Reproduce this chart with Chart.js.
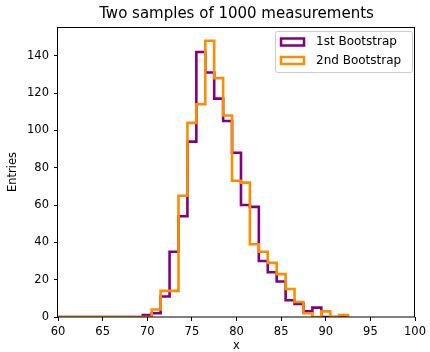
<!DOCTYPE html>
<html>
<head>
<meta charset="utf-8">
<script src="https://cdn.jsdelivr.net/npm/chart.js@4"></script>
<style>
  html, body { margin:0; padding:0; background:#fff; }
</style>
</head>
<body>
<canvas id="myChart" width="430" height="352"></canvas>
<script>
const chartTitle = 'Two samples of 1000 measurements'
const xLabel = 'x'
const yLabel = 'Entries'
const seriesNames = ['1st Bootstrap', '2nd Bootstrap']
const seriesColors = ['#800080', '#ff8c00']

// bin centres, width 1
const binCenters = [60,61,62,63,64,65,66,67,68,69,70,71,72,73,74,75,76,77,78,79,80,81,82,83,84,85,86,87,88,89,90,91,92]
const firstBootstrap  = [0,0,0,0,0,0,0,0,0,0,1,2,11,35,54,94,142,131,117,105,88,60,59,30,24,19,9,7,3,5,0,0,0]
const secondBootstrap = [0,0,0,0,0,0,0,0,0,0,0,4,14,14,65,104,114,148,128,108,73,72,39,35,29,23,15,8,2,0,3,0,1]

const xTicks = [60,65,70,75,80,85,90,95,100]
const yTicks = [0,20,40,60,80,100,120,140]
const yMax = 155.4

const FONT = 'DejaVu Sans'

function stepPoints(counts) {
  let pts = binCenters.map((c, i) => ({x: c - 0.5, y: counts[i]}))
  pts.push({x: binCenters[binCenters.length - 1] + 0.5, y: 0})
  return pts
}

// frame, title and legend drawn like matplotlib
const mplDecor = {
  id: 'mplDecor',
  afterDatasetsDraw(chart) {
    const {ctx, chartArea: a} = chart
    ctx.save()
    ctx.strokeStyle = '#000'
    ctx.lineWidth = 1
    ctx.strokeRect(Math.round(a.left) - 0.5, Math.round(a.top) + 0.5, Math.round(a.right - a.left), Math.round(a.bottom - a.top) - 0.5)
    ctx.restore()
  },
  afterDraw(chart) {
    const {ctx, chartArea: a} = chart
    ctx.save()
    // title
    ctx.fillStyle = '#000'
    ctx.font = '15px "' + FONT + '"'
    ctx.textAlign = 'center'
    ctx.textBaseline = 'middle'
    ctx.fillText(chartTitle, (a.left + a.right) / 2, 14)

    // legend
    const bx = a.right - 140, by = a.top + 4, bw = 137, bh = 41
    ctx.beginPath()
    ctx.roundRect(bx + 0.5, by + 0.5, bw, bh, 2)
    ctx.fillStyle = 'rgba(255,255,255,0.8)'
    ctx.fill()
    ctx.strokeStyle = '#cccccc'
    ctx.lineWidth = 1
    ctx.stroke()
    ctx.font = '12px "' + FONT + '"'
    ctx.textAlign = 'left'
    seriesNames.forEach((name, i) => {
      const cy = by + 11 + i * 18.5
      ctx.strokeStyle = seriesColors[i]
      ctx.lineWidth = 2.5
      ctx.strokeRect(bx + 6, cy - 3.5, 23, 7)
      ctx.fillStyle = '#000'
      ctx.fillText(name, bx + 41, cy)
    })
    ctx.restore()
  }
}

const tickFont = {family: FONT, size: 11.5}

new Chart(document.getElementById('myChart'), {
  type: 'line',
  data: {
    datasets: [
      {
        label: seriesNames[0],
        data: stepPoints(firstBootstrap),
        borderColor: seriesColors[0],
        borderWidth: 2.6,
        stepped: 'before',
        pointRadius: 0,
        fill: false,
        order: 1,
        clip: {left: 0, right: 0, top: 3, bottom: 0},
      },
      {
        label: seriesNames[1],
        data: stepPoints(secondBootstrap),
        borderColor: seriesColors[1],
        borderWidth: 2.6,
        stepped: 'before',
        pointRadius: 0,
        fill: false,
        order: 0,
        clip: {left: 0, right: 0, top: 3, bottom: 0},
      },
    ],
  },
  options: {
    responsive: false,
    animation: false,
    devicePixelRatio: 1,
    layout: {padding: {top: 27, right: 12, left: 0, bottom: 0}},
    plugins: {
      legend: {display: false},
      title: {display: false},
      tooltip: {enabled: false},
    },
    scales: {
      x: {
        type: 'linear',
        min: 60,
        max: 100,
        afterBuildTicks: s => { s.ticks = xTicks.map(v => ({value: v})) },
        afterFit: s => { s.height = 35 },
        ticks: {font: tickFont, color: '#000', padding: 4, maxRotation: 0, autoSkip: false},
        grid: {drawOnChartArea: false, drawTicks: true, tickLength: 4, tickColor: '#000'},
        border: {display: false},
        title: {display: true, text: xLabel, color: '#000', font: {family: FONT, size: 11.5, lineHeight: 1}, padding: {top: 0, bottom: 0}},
      },
      y: {
        min: 0,
        max: yMax,
        afterBuildTicks: s => { s.ticks = yTicks.map(v => ({value: v})) },
        afterFit: s => { s.width = 58 },
        ticks: {font: tickFont, color: '#000', padding: 5},
        grid: {drawOnChartArea: false, drawTicks: true, tickLength: 4, tickColor: '#000'},
        border: {display: false},
        title: {display: true, text: yLabel, color: '#000', font: {family: FONT, size: 11.5, lineHeight: 1.2}, padding: {top: 6, bottom: 0}},
      },
    },
  },
  plugins: [mplDecor],
})
</script>
</body>
</html>
